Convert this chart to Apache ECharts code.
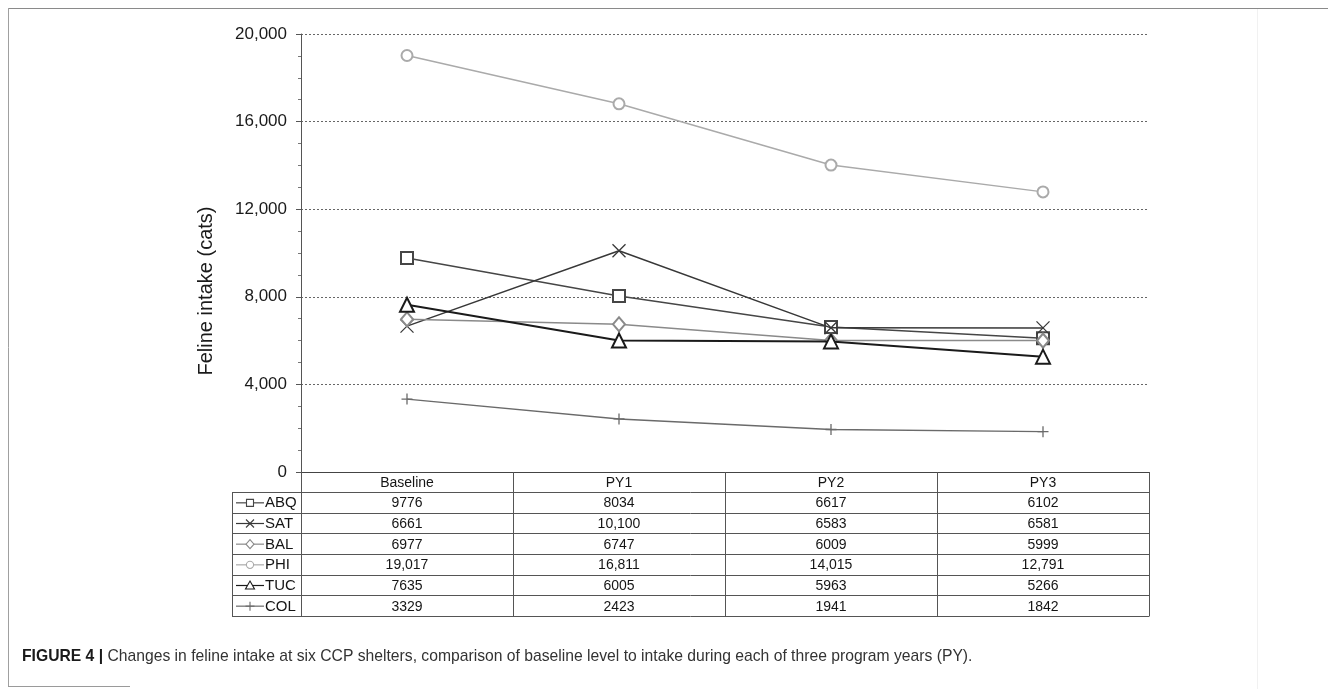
<!DOCTYPE html>
<html>
<head>
<meta charset="utf-8">
<script src="https://cdn.jsdelivr.net/npm/echarts@6/dist/echarts.min.js"></script>
<style>
  html, body { margin: 0; padding: 0; background: #fff; }
  #chart { width: 1328px; height: 689px; }
</style>
</head>
<body>
<div id="chart"></div>
<script>
// Program periods and shelters
const categories = ['Baseline', 'PY1', 'PY2', 'PY3'];
const shelters = ['ABQ', 'SAT', 'BAL', 'PHI', 'TUC', 'COL'];

// Feline intake (cats) per shelter and period
const abq = [9776, 8034, 6617, 6102];
const sat = [6661, 10100, 6583, 6581];
const bal = [6977, 6747, 6009, 5999];
const phi = [19017, 16811, 14015, 12791];
const tuc = [7635, 6005, 5963, 5266];
const col = [3329, 2423, 1941, 1842];

// Value axis range
const yMin = 0, yMax = 20000, yStep = 4000;

const seriesValues = [abq, sat, bal, phi, tuc, col];

// Drawing styles for each shelter line
const looks = [
  { color: '#464646', mark: 'square',   width: 1.5 },
  { color: '#383838', mark: 'cross',    width: 1.5 },
  { color: '#8a8a8a', mark: 'diamond',  width: 1.5 },
  { color: '#aaaaaa', mark: 'circle',   width: 1.5 },
  { color: '#1a1a1a', mark: 'triangle', width: 2.0 },
  { color: '#6a6a6a', mark: 'plus',     width: 1.4 }
];

const FONT = 'Liberation Sans, Arial, sans-serif';

// Layout of the plot area and the data table beneath it
const plotLeft = 301, plotRight = 1149, plotTop = 34, zeroY = 472;
const headerBottom = 492, tableBottom = 616, keyLeft = 232;
const band = (plotRight - plotLeft) / categories.length;
const rowH = (tableBottom - headerBottom) / shelters.length;

const fmt = v => v >= 10000 ? v.toLocaleString('en-US') : String(v);

function seriesSymbol(mark) {
  switch (mark) {
    case 'square':   return { symbol: 'emptyRect', size: 12 };
    case 'diamond':  return { symbol: 'emptyDiamond', size: [12, 14] };
    case 'circle':   return { symbol: 'emptyCircle', size: 11 };
    case 'triangle': return { symbol: 'emptyTriangle', size: 14 };
    case 'cross':    return { symbol: 'path://M0 0L10 10M10 0L0 10', size: 13, stroke: true };
    case 'plus':     return { symbol: 'path://M5 0L5 10M0 5L10 5', size: 11, stroke: true };
  }
}

const series = shelters.map((name, i) => {
  const lk = looks[i];
  const s = seriesSymbol(lk.mark);
  return {
    name,
    type: 'line',
    data: seriesValues[i],
    symbol: s.symbol,
    symbolSize: s.size,
    showAllSymbol: true,
    z: 3 + i,
    lineStyle: { color: lk.color, width: lk.width },
    itemStyle: s.stroke
      ? { color: 'rgba(0,0,0,0)', borderColor: lk.color, borderWidth: 1.3 }
      : { color: lk.color, borderColor: lk.color, borderWidth: 1.3 },
    emphasis: { disabled: true },
    animation: false
  };
});

// Small key glyph drawn in the first column of the table
function keyGlyph(mark, cx, cy, color) {
  const st = { stroke: color, lineWidth: 1.1, fill: '#fff' };
  const ln = (x1, y1, x2, y2) => ({ type: 'line', shape: { x1, y1, x2, y2 }, style: { stroke: color, lineWidth: 1.1 }, z: 12 });
  switch (mark) {
    case 'square':   return [{ type: 'rect', shape: { x: cx - 3.5, y: cy - 3.5, width: 7, height: 7 }, style: st, z: 12 }];
    case 'circle':   return [{ type: 'circle', shape: { cx, cy, r: 3.6 }, style: st, z: 12 }];
    case 'diamond':  return [{ type: 'polygon', shape: { points: [[cx, cy - 4.5], [cx + 4, cy], [cx, cy + 4.5], [cx - 4, cy]] }, style: st, z: 12 }];
    case 'triangle': return [{ type: 'polygon', shape: { points: [[cx, cy - 4.5], [cx + 4.5, cy + 3.5], [cx - 4.5, cy + 3.5]] }, style: st, z: 12 }];
    case 'cross':    return [ln(cx - 4, cy - 4, cx + 4, cy + 4), ln(cx + 4, cy - 4, cx - 4, cy + 4)];
    case 'plus':     return [ln(cx, cy - 4.5, cx, cy + 4.5), ln(cx - 4.5, cy, cx + 4.5, cy)];
  }
}

function buildTable() {
  const els = [];
  const rule = '#555';
  const line = (x1, y1, x2, y2, c) => els.push({
    type: 'line', shape: { x1, y1, x2, y2 }, style: { stroke: c || rule, lineWidth: 1 }, z: 10
  });
  // horizontal rules
  for (let r = 0; r <= shelters.length; r++) {
    const y = Math.round(headerBottom + r * rowH) + 0.5;
    line(keyLeft, y, plotRight, y);
  }
  // vertical rules
  line(keyLeft + 0.5, headerBottom, keyLeft + 0.5, tableBottom + 0.5);
  for (let c = 0; c <= categories.length; c++) {
    const x = Math.round(plotLeft + c * band) + 0.5;
    line(x, zeroY, x, tableBottom + 0.5);
  }
  const cell = (text, x, y, align, size) => els.push({
    type: 'text', x, y, z: 11,
    style: { text, fill: '#151515', font: size + 'px ' + FONT, textAlign: align, textVerticalAlign: 'middle', align, verticalAlign: 'middle' }
  });
  // header labels
  categories.forEach((cat, c) => cell(cat, plotLeft + (c + 0.5) * band, (zeroY + headerBottom) / 2 + 1, 'center', 14));
  // rows: key glyph, shelter name and values
  shelters.forEach((name, r) => {
    const cy = headerBottom + (r + 0.5) * rowH + 0.5;
    const lk = looks[r];
    els.push({ type: 'line', shape: { x1: 236, y1: cy, x2: 264, y2: cy }, style: { stroke: lk.color, lineWidth: 1.2 }, z: 11 });
    keyGlyph(lk.mark, 250, cy, lk.color).forEach(e => els.push(e));
    cell(name, 265, cy + 0.5, 'left', 15);
    seriesValues[r].forEach((v, c) => cell(fmt(v), plotLeft + (c + 0.5) * band, cy + 0.5, 'center', 14));
  });
  return els;
}

function buildFrame() {
  return [
    { type: 'line', shape: { x1: 8, y1: 8.5, x2: 1328, y2: 8.5 }, style: { stroke: '#8a8a8a', lineWidth: 1 }, z: 1 },
    { type: 'line', shape: { x1: 8.5, y1: 8, x2: 8.5, y2: 687 }, style: { stroke: '#a0a0a0', lineWidth: 1 }, z: 1 },
    { type: 'line', shape: { x1: 8, y1: 686.5, x2: 130, y2: 686.5 }, style: { stroke: '#9a9a9a', lineWidth: 1 }, z: 1 },
    { type: 'line', shape: { x1: 1257.5, y1: 9, x2: 1257.5, y2: 689 }, style: { stroke: '#f1f1f1', lineWidth: 1 }, z: 1 },
    {
      type: 'text', x: 206, y: 291, rotation: Math.PI / 2, z: 11,
      style: { text: 'Feline intake (cats)', fill: '#1a1a1a', font: '20px ' + FONT, textAlign: 'center', textVerticalAlign: 'middle', align: 'center', verticalAlign: 'middle' }
    },
    {
      type: 'text', x: 22, y: 657, z: 11,
      style: {
        text: '{b|FIGURE 4 |} Changes in feline intake at six CCP shelters, comparison of baseline level to intake during each of three program years (PY).',
        fill: '#333', font: '15.7px ' + FONT, textAlign: 'left', textVerticalAlign: 'middle', align: 'left', verticalAlign: 'middle',
        rich: { b: { fontWeight: 'bold', fill: '#1a1a1a', color: '#1a1a1a', fontSize: 15.7, fontFamily: FONT } }
      }
    }
  ];
}

const chart = echarts.init(document.getElementById('chart'), null, { renderer: 'canvas' });
chart.setOption({
  backgroundColor: '#fff',
  animation: false,
  grid: { left: plotLeft, right: 1328 - plotRight, top: plotTop, bottom: 689 - zeroY, containLabel: false },
  xAxis: {
    type: 'category',
    data: categories,
    boundaryGap: true,
    axisLine: { show: true, lineStyle: { color: '#444', width: 1 } },
    axisTick: { show: false },
    axisLabel: { show: false },
    splitLine: { show: false }
  },
  yAxis: {
    type: 'value',
    min: yMin, max: yMax, interval: yStep,
    axisLine: { show: true, lineStyle: { color: '#555', width: 1 } },
    axisTick: { show: true, length: 5, lineStyle: { color: '#555' } },
    minorTick: { show: true, splitNumber: 4, length: 3, lineStyle: { color: '#777' } },
    axisLabel: { fontSize: 17, color: '#1a1a1a', fontFamily: FONT, margin: 14, formatter: v => v.toLocaleString('en-US') },
    splitLine: { show: true, lineStyle: { color: '#666', width: 1, type: [2, 2] } }
  },
  series,
  graphic: { elements: buildTable().concat(buildFrame()) }
});
</script>
</body>
</html>
